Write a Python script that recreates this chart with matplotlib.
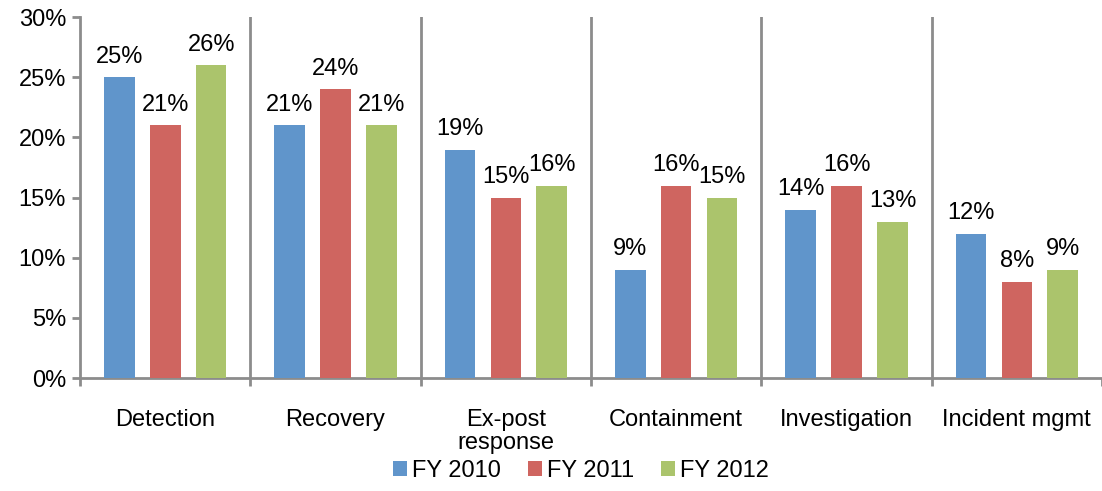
import matplotlib
matplotlib.use("Agg")
import matplotlib.pyplot as plt
import numpy as np

plt.rcParams["font.family"] = ["Liberation Sans", "DejaVu Sans"]

CATEGORIES = ["Detection", "Recovery", "Ex-post\nresponse", "Containment", "Investigation", "Incident mgmt"]
SERIES = ["FY 2010", "FY 2011", "FY 2012"]
FY2010 = [25, 21, 19, 9, 14, 12]
FY2011 = [21, 24, 15, 16, 16, 8]
FY2012 = [26, 21, 16, 15, 13, 9]
COLORS = ["#6095CB", "#CF6560", "#ABC46C"]
Y_TICKS = [0, 5, 10, 15, 20, 25, 30]

GRAY = "#8C8C8C"
FS = 17


def main() -> None:
    fig = plt.figure(figsize=(11.02, 4.91), dpi=100)
    ax = fig.add_axes([0.0726, 0.230, 0.9274, 0.735])

    x = np.arange(len(CATEGORIES))
    step = 0.27
    width = 0.18
    for i, (name, vals, color) in enumerate(zip(SERIES, [FY2010, FY2011, FY2012], COLORS)):
        pos = x + (i - 1) * step
        bars = ax.bar(pos, vals, width=width, color=color, label=name, zorder=3)
        for b, v in zip(bars, vals):
            ax.annotate(f"{v}%", (b.get_x() + b.get_width() / 2, v),
                        xytext=(0, 7), textcoords="offset points",
                        ha="center", va="bottom", fontsize=FS)

    ax.set_xlim(-0.5, len(CATEGORIES) - 0.5)
    ax.set_ylim(0, 30)
    ax.set_yticks(Y_TICKS)
    ax.set_yticklabels([f"{t}%" for t in Y_TICKS], fontsize=FS)

    # category labels as major ticks (no marks), boundaries as minor ticks
    ax.set_xticks(x)
    ax.set_xticklabels(CATEGORIES, fontsize=FS, linespacing=1.1)
    ax.tick_params(axis="x", which="major", length=0, pad=22)
    bounds = np.arange(len(CATEGORIES) + 1) - 0.5
    ax.set_xticks(bounds, minor=True)
    ax.tick_params(axis="x", which="minor", length=6, width=2, color=GRAY, direction="out")
    ax.tick_params(axis="y", length=6, width=2, color=GRAY, pad=4)

    for b in bounds[1:-1]:
        ax.axvline(b, color=GRAY, lw=2, zorder=1)

    for side in ["top", "right"]:
        ax.spines[side].set_visible(False)
    for side in ["left", "bottom"]:
        ax.spines[side].set_color(GRAY)
        ax.spines[side].set_linewidth(2)

    fig.legend(loc="lower center", bbox_to_anchor=(0.527, -0.025), ncol=3, frameon=False,
               fontsize=FS, handlelength=0.6, handleheight=0.6, handletextpad=0.2,
               columnspacing=1.15)

    fig.savefig("out.png", dpi=100)
    plt.close(fig)


if __name__ == "__main__":
    main()
